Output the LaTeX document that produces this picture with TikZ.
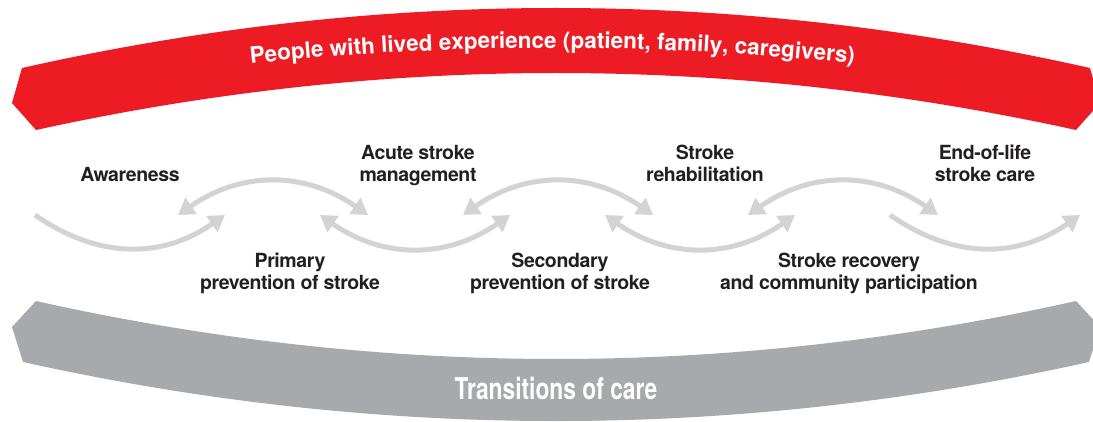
\documentclass[tikz,border=0pt]{standalone}
\usepackage{fontspec}
\setmainfont{TeX Gyre Heros}
\newfontfamily\labfont[LetterSpace=-2]{TeX Gyre Heros}
\newfontfamily\bandfont{TeX Gyre Heros}
\usetikzlibrary{arrows.meta,decorations.text}
\definecolor{bandred}{RGB}{237,28,36}
\definecolor{bandgray}{RGB}{167,169,172}
\definecolor{arrowgray}{RGB}{209,211,212}
\definecolor{labeltext}{RGB}{35,31,32}
\tikzset{
  flowone/.style={draw=arrowgray, line width=5pt, -{Triangle[length=16pt,width=19pt]}},
  flowtwo/.style={draw=arrowgray, line width=5pt, {Triangle[length=16pt,width=19pt]}-{Triangle[length=16pt,width=19pt]}},
  stagelabel/.style={font=\labfont\bfseries\fontsize{19.5}{22.5}\selectfont, text=labeltext, align=center, anchor=base, inner sep=0pt},
}
\begin{document}
\begin{tikzpicture}[x=1pt,y=-1pt]
\useasboundingbox (0,0) rectangle (1093,422);
\clip (0,0) rectangle (1093,422);
% red band
\fill[bandred] (22,68) .. controls (378,-12) and (734,-12) .. (1090,68) -- (1100,103) -- (1076,130)
   .. controls (729.3,54) and (382.7,54) .. (36,130) -- (12,103) -- cycle;
% gray band
\fill[bandgray] (36,301) .. controls (382.7,378.3) and (729.3,378.3) .. (1076,301) -- (1100,327) -- (1089,362)
   .. controls (733.7,440.7) and (378.3,440.7) .. (23,362) -- (12,327) -- cycle;
% red band text
\path[decorate, decoration={text along path, text align=center, text color=white,
  text={|\bandfont\bfseries\fontsize{22.5}{27}\selectfont|People with lived experience (patient, family, caregivers)}}]
  (176,72.3) .. controls (426.7,39.9) and (677.3,39.9) .. (928,72.3);
% gray band text
\node[text=white, font=\bandfont\bfseries\fontsize{30}{34}\selectfont, inner sep=0pt] (trans) at (556,388)
  {\scalebox{0.76}[1]{Transitions of care}};
% arrow coordinates
\foreach \c [count=\i] in {130,415,700,985} {
  \coordinate (lo\i-s) at (\c-95,215);
  \coordinate (lo\i-c1) at (\c-31.7,259);
  \coordinate (lo\i-c2) at (\c+31.7,259);
  \coordinate (lo\i-e) at (\c+95,215);
}
\foreach \c [count=\i] in {273,558,843} {
  \coordinate (up\i-s) at (\c-95,215);
  \coordinate (up\i-c1) at (\c-31.7,171);
  \coordinate (up\i-c2) at (\c+31.7,171);
  \coordinate (up\i-e) at (\c+95,215);
}
\draw[flowone] (lo1-s) .. controls (lo1-c1) and (lo1-c2) .. (lo1-e);
\draw[flowtwo] (up1-s) .. controls (up1-c1) and (up1-c2) .. (up1-e);
\draw[flowtwo] (lo2-s) .. controls (lo2-c1) and (lo2-c2) .. (lo2-e);
\draw[flowtwo] (up2-s) .. controls (up2-c1) and (up2-c2) .. (up2-e);
\draw[flowtwo] (lo3-s) .. controls (lo3-c1) and (lo3-c2) .. (lo3-e);
\draw[flowtwo] (up3-s) .. controls (up3-c1) and (up3-c2) .. (up3-e);
\draw[flowone] (lo4-s) .. controls (lo4-c1) and (lo4-c2) .. (lo4-e);
% labels (base = baseline of last line)
\node[stagelabel] (aware) at (130,182) {Awareness};
\node[stagelabel] (acute) at (418,182) {Acute stroke\\management};
\node[stagelabel] (rehab) at (705,182) {Stroke\\rehabilitation};
\node[stagelabel] (eol) at (985,182) {End-of-life\\stroke care};
\node[stagelabel] (prim) at (290,290) {Primary\\prevention of stroke};
\node[stagelabel] (sec) at (560,290) {Secondary\\prevention of stroke};
\node[stagelabel] (recov) at (849,290) {Stroke recovery\\and community participation};
\end{tikzpicture}
\end{document}
